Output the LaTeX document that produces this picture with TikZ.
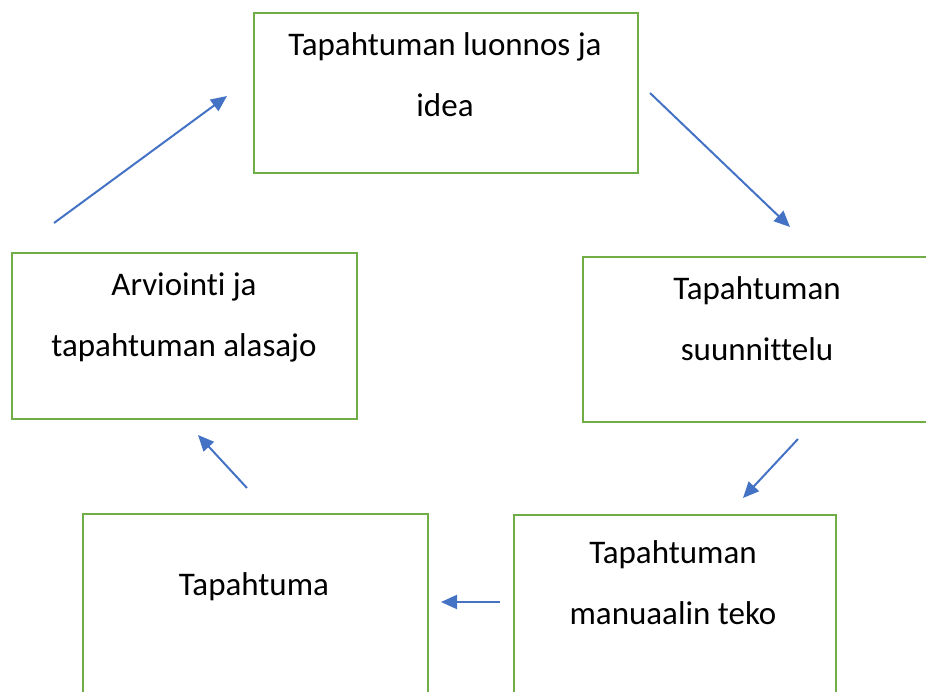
\documentclass[tikz,border=0pt]{standalone}
\usepackage{fontspec}
\setmainfont{Carlito}[Ligatures=NoCommon, RawFeature={-liga;-clig;-calt;-dlig}]
\usetikzlibrary{positioning,arrows.meta}
\definecolor{boxgreen}{HTML}{70AD47}
\definecolor{arrowblue}{HTML}{4472C4}

\begin{document}
\begin{tikzpicture}[x=1pt,y=-1pt,
  stepbox/.style={draw=boxgreen, line width=2pt, inner sep=0pt},
  steptext/.style={anchor=base, align=center, inner sep=0pt, font=\fontsize{33}{61}\selectfont},
  flow/.style={-{Triangle[length=16pt,width=14pt]}, arrowblue, line width=2pt}]
\useasboundingbox (0,0) rectangle (926,692);
\clip (0,0) rectangle (926,692);
% boxes
\node [stepbox, minimum width=384pt, minimum height=160pt] (luonnos) at (446,93) {};
\node [stepbox, minimum width=348pt, minimum height=165pt] (suunnittelu) at (757,339.5) {};
\node [stepbox, minimum width=322pt, minimum height=180pt] (manuaali) at (675,605) {};
\node [stepbox, minimum width=345pt, minimum height=180pt] (tapahtuma) at (255.5,604) {};
\node [stepbox, minimum width=345pt, minimum height=166pt] (alasajo) at (184.5,336) {};
% texts (base = last line)
\node [steptext] (luonnosT) at (445,117) {Tapahtuman luonnos ja\\idea};
\node [steptext] (suunnitteluT) at (757,360) {Tapahtuman\\suunnittelu};
\node [steptext] (manuaaliT) at (673,624) {Tapahtuman\\manuaalin teko};
\node [steptext] (tapahtumaT) at (254,595) {Tapahtuma};
\node [steptext] (alasajoT) at (184,356) {Arviointi ja\\tapahtuman alasajo};
% arrows
\coordinate (a1) at (650,93);   \coordinate (b1) at (790,227);
\coordinate (a2) at (798,439);  \coordinate (b2) at (743,498);
\coordinate (a3) at (500,602);  \coordinate (b3) at (441,602);
\coordinate (a4) at (247,488);  \coordinate (b4) at (198,435);
\coordinate (a5) at (54,223);   \coordinate (b5) at (227,96);
\draw [flow] (a1) -- (b1);
\draw [flow] (a2) -- (b2);
\draw [flow] (a3) -- (b3);
\draw [flow] (a4) -- (b4);
\draw [flow] (a5) -- (b5);
\end{tikzpicture}
\end{document}
